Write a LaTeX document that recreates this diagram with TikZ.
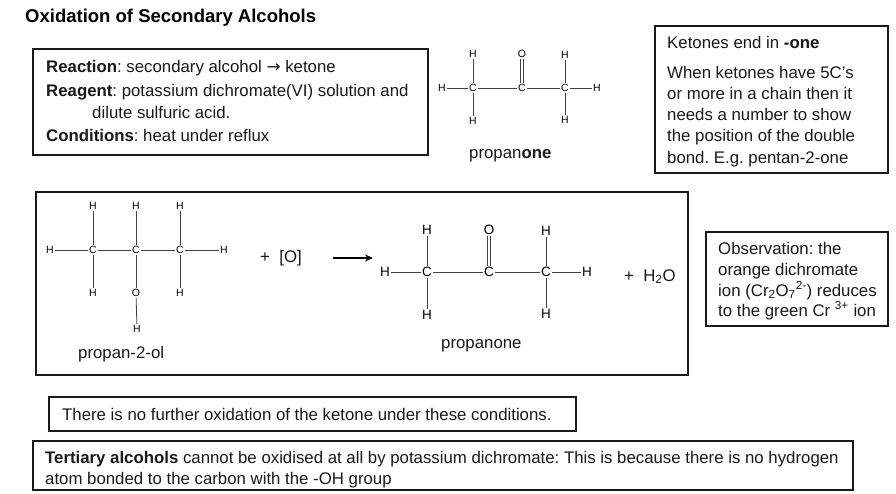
\documentclass[tikz,border=0pt]{standalone}
\usepackage{fontspec}
\setmainfont{Liberation Sans}
\newfontfamily\arrowfont{DejaVu Sans}
\usetikzlibrary{arrows.meta}
\frenchspacing
\tikzset{
  txt/.style={anchor=base west,inner sep=0pt,font=\fontsize{16.8}{18}\selectfont\frenchspacing,text=black!90},
  ttl/.style={anchor=base west,inner sep=0pt,font=\fontsize{18.5}{20}\selectfont\bfseries},
  frame/.style={draw=black!90,line width=1.3pt},
  atomS/.style={inner sep=1pt,font=\fontsize{10.5}{11}\selectfont},
  atomL/.style={inner sep=1pt,font=\fontsize{13.5}{14}\selectfont},
  bond/.style={draw=black!75,line width=0.8pt},
}
\begin{document}
\begin{tikzpicture}[x=1pt,y=1pt]
\useasboundingbox (0,0) rectangle (896,-493);
\fill[white] (0,0) rectangle (896,-493);
% frames
\draw[frame] (33,-49) rectangle (428,-155);
\draw[frame] (655,-26) rectangle (888,-173);
\draw[frame] (36,-192) rectangle (688,-375);
\draw[frame] (706,-232) rectangle (888,-326);
\draw[frame] (49,-397) rectangle (576,-431);
\draw[frame] (33,-441) rectangle (853,-490);
% title
\node[ttl] (title) at (25,-22) {Oxidation of Secondary Alcohols};
% box 1
\node[txt] (r1) at (46,-72) {\textbf{Reaction}: secondary alcohol {\arrowfont\char"2192} ketone};
\node[txt] (r2) at (46,-96) {\textbf{Reagent}: potassium dichromate(VI) solution and};
\node[txt] (r3) at (92,-118) {dilute sulfuric acid.};
\node[txt] (r4) at (46,-141) {\textbf{Conditions}: heat under reflux};
% ketones
\node[txt] (k1) at (667,-48) {Ketones end in \textbf{-one}};
\node[txt] (k2) at (667,-78) {When ketones have 5C’s};
\node[txt] (k3) at (667,-99) {or more in a chain then it};
\node[txt] (k4) at (667,-120) {needs a number to show};
\node[txt] (k5) at (667,-141) {the position of the double};
\node[txt] (k6) at (667,-163) {bond. E.g. pentan-2-one};
% observation
\node[txt] (o1) at (718,-254) {Observation: the};
\node[txt] (o2) at (718,-275) {orange dichromate};
\node[txt] (o3) at (718,-296) {ion (Cr\textsubscript{2}O\textsubscript{7}\textsuperscript{2-}) reduces};
\node[txt] (o4) at (718,-316) {to the green Cr \textsuperscript{3+} ion};
% bottom
\node[txt] (n1) at (62,-420) {There is no further oxidation of the ketone under these conditions.};
\node[txt] (t1) at (45,-463) {\textbf{Tertiary alcohols} cannot be oxidised at all by potassium dichromate: This is because there is no hydrogen};
\node[txt] (t2) at (45,-484) {atom bonded to the carbon with the -OH group};
% labels
\node[txt] (pn1) at (469,-158) {propan\textbf{one}};
\node[txt] (pol) at (78,-358) {propan-2-ol};
\node[txt] (pn2) at (441,-348) {propanone};
\node[txt] (plus1) at (260,-262) {+\ \ [O]};
\node[txt] (plus2) at (624,-281) {+\ \ H\textsubscript{2}O};
% arrow
\coordinate (arrA) at (333,-258);
\coordinate (arrB) at (373,-258);
\draw[line width=1.3pt,-{Stealth[length=8pt,width=7pt]}] (arrA) -- (arrB);
% molecule 1
\foreach \n/\x/\y/\t in {aC1/473/88/C,aC2/522/88/C,aC3/565/88/C,aHl/442/88/H,aHr/597/88/H,aHt1/473/54/H,aO/522/54/O,aHt3/565/55/H,aHb1/473/121/H,aHb3/565/120/H}
  \node[atomS] (\n) at (\x,-\y) {\t};
\draw[bond] (aHl)--(aC1); \draw[bond] (aC1)--(aC2); \draw[bond] (aC2)--(aC3); \draw[bond] (aC3)--(aHr);
\draw[bond] (aHt1)--(aC1); \draw[bond] (aC1)--(aHb1); \draw[bond] (aHt3)--(aC3); \draw[bond] (aC3)--(aHb3);
\draw[bond] ([xshift=-1.5pt]aO.south) -- ([xshift=-1.5pt]aC2.north);
\draw[bond] ([xshift=1.5pt]aO.south) -- ([xshift=1.5pt]aC2.north);
% molecule 2
\foreach \n/\x/\y/\t in {bC1/93/250/C,bC2/136/250/C,bC3/180/250/C,bHl/50/250/H,bHr/224/250/H,bHt1/93/206/H,bHt2/136/206/H,bHt3/180/206/H,bHb1/93/293/H,bO/136/293/O,bHb3/180/293/H,bHo/137/329/H}
  \node[atomS] (\n) at (\x,-\y) {\t};
\draw[bond] (bHl)--(bC1); \draw[bond] (bC1)--(bC2); \draw[bond] (bC2)--(bC3); \draw[bond] (bC3)--(bHr);
\draw[bond] (bHt1)--(bC1); \draw[bond] (bC1)--(bHb1); \draw[bond] (bHt2)--(bC2); \draw[bond] (bC2)--(bO);
\draw[bond] (bHt3)--(bC3); \draw[bond] (bC3)--(bHb3); \draw[bond] (bO)--(bHo);
% molecule 3
\foreach \n/\x/\y/\t in {cC1/427/272/C,cC2/489/272/C,cC3/546/272/C,cHl/385/272/H,cHr/587/272/H,cHt1/427/230/H,cO/489/230/O,cHt3/546/231/H,cHb1/427/315/H,cHb3/546/314/H}
  \node[atomL] (\n) at (\x,-\y) {\t};
\draw[bond] (cHl)--(cC1); \draw[bond] (cC1)--(cC2); \draw[bond] (cC2)--(cC3); \draw[bond] (cC3)--(cHr);
\draw[bond] (cHt1)--(cC1); \draw[bond] (cC1)--(cHb1); \draw[bond] (cHt3)--(cC3); \draw[bond] (cC3)--(cHb3);
\draw[bond] ([xshift=-2pt]cO.south) -- ([xshift=-2pt]cC2.north);
\draw[bond] ([xshift=1.5pt]cO.south) -- ([xshift=1.5pt]cC2.north);
\end{tikzpicture}
\end{document}
